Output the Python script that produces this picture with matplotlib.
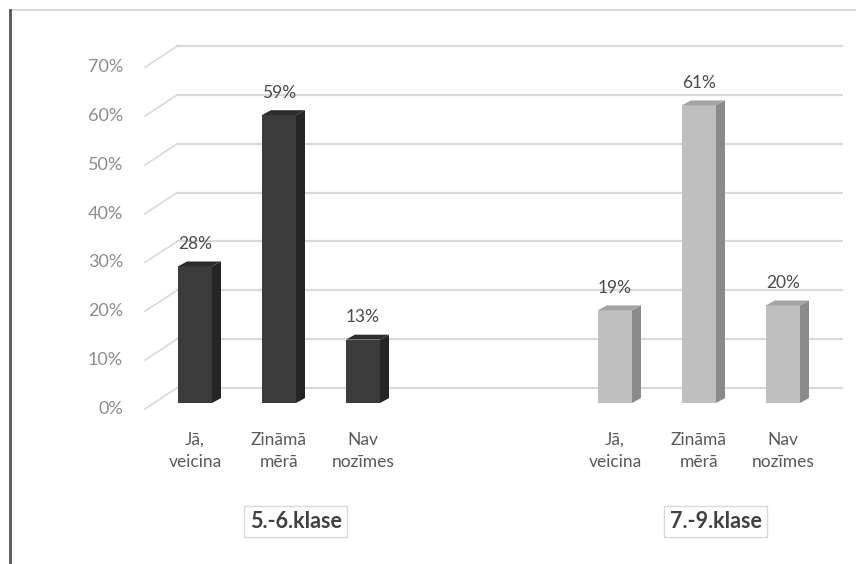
import matplotlib
matplotlib.use('Agg')
import matplotlib.pyplot as plt
from matplotlib.patches import Polygon
from matplotlib.lines import Line2D

plt.rcParams['font.family'] = ['Lato', 'DejaVu Sans']

# chart data
categories = ['Jā,\nveicina', 'Zināmā\nmērā', 'Nav\nnozīmes']
groups = ['5.-6.klase', '7.-9.klase']
values_56 = [28, 59, 13]
values_79 = [19, 61, 20]
y_ticks = [0, 10, 20, 30, 40, 50, 60, 70]

# 3d look
bar_w = 0.405
dx, dy = 0.107, 1.0          # bar depth
back_dy, front_dy = 3.1, -1.2  # floor planes
grid_front_x, grid_back_x, grid_end_x = -0.595, -0.214, 7.70

styles = [
    {'front': '#3b3b3b', 'side': '#252525', 'top': '#2c2c2c'},
    {'front': '#bfbfbf', 'side': '#8a8a8a', 'top': '#a3a3a3'},
]

fig = plt.figure(figsize=(8.56, 5.64), dpi=100)
ax = fig.add_axes([0, 0, 1, 1])
ax.set_xlim(-195 / 84, (856 - 195) / 84)
ax.set_ylim((403 - 564) / 4.88, 403 / 4.88)
ax.axis('off')

# gridlines with perspective stubs
for t in y_ticks:
    ax.plot([grid_front_x, grid_back_x], [t + front_dy, t + back_dy],
            color='#d9d9d9', lw=1.2, zorder=1)
    ax.plot([grid_back_x, grid_end_x], [t + back_dy, t + back_dy],
            color='#d9d9d9', lw=1.6, zorder=1)
    ax.text(-0.857, t + front_dy, '%d%%' % t, ha='right', va='center',
            fontsize=13, color='#8c8c8c')

for g, (vals, st) in enumerate(zip([values_56, values_79], styles)):
    xs = [i + 5 * g for i in range(len(vals))]
    ax.bar(xs, vals, width=bar_w, color=st['front'], zorder=3)
    for x, v, cat in zip(xs, vals, categories):
        r = x + bar_w / 2
        l = x - bar_w / 2
        ax.add_patch(Polygon([(r, 0), (r + dx, dy), (r + dx, v + dy), (r, v)],
                             closed=True, facecolor=st['side'], edgecolor='none', zorder=3))
        ax.add_patch(Polygon([(l, v), (l + dx, v + dy), (r + dx, v + dy), (r, v)],
                             closed=True, facecolor=st['top'], edgecolor='none', zorder=3))
        ax.text(x, v + 4.6, '%d%%' % v, ha='center', va='center',
                fontsize=12.5, color='#4a4a4a', zorder=4)
        ax.text(x, -9.8, cat, ha='center', va='center', fontsize=12.5,
                color='#595959', linespacing=1.45)
    ax.text(xs[1] + 0.2, -24.3, groups[g], ha='center', va='center',
            fontsize=15.5, fontweight='bold', color='#404040',
            bbox=dict(boxstyle='square,pad=0.25', facecolor='white',
                      edgecolor='#d9d9d9', lw=1))

# chart frame
fig.add_artist(Line2D([10 / 856, 1], [1 - 10 / 564, 1 - 10 / 564],
                      transform=fig.transFigure, color='#d9d9d9', lw=1.5))
fig.add_artist(Line2D([9.5 / 856, 9.5 / 856], [0, 1 - 10 / 564],
                      transform=fig.transFigure, color='#555555', lw=2))

plt.savefig('out.png', dpi=100)
